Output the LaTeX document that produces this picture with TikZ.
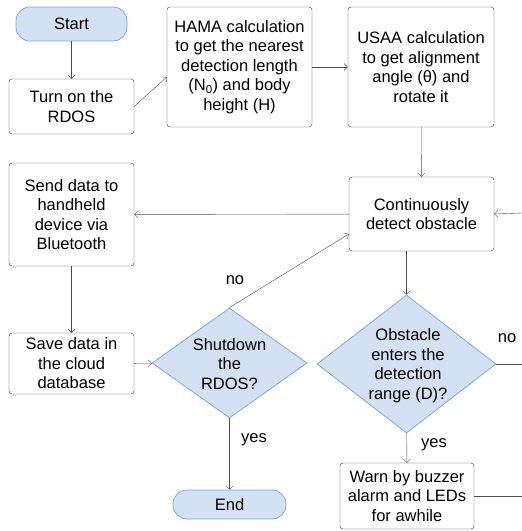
\documentclass[tikz,border=0pt]{standalone}
\usepackage{fontspec}
\setmainfont{Liberation Sans}
\usepackage{tikz}
\usetikzlibrary{arrows.meta}
\usetikzlibrary{shapes.geometric}
\definecolor{termfill}{HTML}{D4E1F5}
\definecolor{termdraw}{HTML}{7EA6E0}
\definecolor{linegray}{HTML}{4D4D4D}

\begin{document}
\begin{tikzpicture}%
	[x=1pt, y=-1pt,
	font=\fontsize{16.5}{19.5}\selectfont,
	process/.style={draw=black!80, rounded corners=3pt, inner sep=0pt, align=center},
	terminal/.style={draw=termdraw, fill=termfill, thick, rounded corners=14pt, inner sep=0pt},
	decision/.style={diamond, draw=termdraw, fill=termfill, thick, inner sep=0pt},
	flow/.style={draw=linegray, -{Straight Barb[length=3.5pt,width=7pt]}},
	plain/.style={draw=linegray},
	tag/.style={inner sep=0pt}]
%
\useasboundingbox (0,0) rectangle (522,531);
%%
%% Drawing the nodes
%%
\node[terminal, minimum width=111pt, minimum height=34pt] (start) at (71.5,24) {Start};
\node[process, minimum width=125pt, minimum height=55pt] (turn) at (71.5,106.5) {Turn on the\\RDOS};
\node[process, minimum width=145pt, minimum height=120pt] (hama) at (239.5,67) {HAMA calculation\\to get the nearest\\detection length\\(N\textsubscript{0}) and body\\height (H)};
\node[process, minimum width=146pt, minimum height=120pt] (usaa) at (421,67) {USAA calculation\\to get alignment\\angle (θ) and\\rotate it};
\node[process, minimum width=145pt, minimum height=74pt] (cont) at (421.5,214) {Continuously\\detect obstacle};
\node[process, minimum width=125pt, minimum height=103pt] (send) at (71.5,214.5) {Send data to\\handheld\\device via\\Bluetooth};
\node[process, minimum width=125pt, minimum height=61pt] (save) at (71.5,363.5) {Save data in\\the cloud\\database};
\node[decision, minimum width=155pt, minimum height=110pt] (shut) at (229.5,363) {};
\node[tag, align=center] (shuttext) at (229.5,364) {Shutdown\\the\\RDOS?};
\node[decision, minimum width=179pt, minimum height=138pt] (obst) at (406.5,364) {};
\node[tag, align=center] (obsttext) at (408,365.5) {Obstacle\\enters the\\detection\\range (D)?};
\node[process, minimum width=134pt, minimum height=66pt] (warn) at (407,496) {Warn by buzzer\\alarm and LEDs\\for awhile};
\node[terminal, minimum width=113pt, minimum height=29pt] (end) at (229.5,504.5) {End};
%%
%% Loose ends at the right border
%%
\coordinate (rin) at (522,213);
\coordinate (rno) at (522,364);
\coordinate (rwarn) at (522,496);
%%
%% Drawing edges
%%
\draw[flow] (start) -- (turn);
\draw[flow] (turn.east) -- ([yshift=-10pt]hama.west);
\draw[flow] (hama) -- (usaa);
\draw[flow] (usaa) -- (cont);
\draw[flow] (cont) -- (send);
\draw[flow] (send) -- (save);
\draw[flow] (save) -- (shut);
\draw[flow] (shut.north) -- ([yshift=-20pt]cont.west);
\draw[flow] (shut) -- (end);
\draw[flow] ([xshift=-15pt]cont.south) -- (obst.north);
\draw[flow] (obst) -- (warn);
\draw[plain] (obst.east) -- (rno);
\draw[plain] (warn.east) -- (rwarn);
\draw[flow] (rin) -- (cont.east);
%%
%% Drawing the labels
%%
\node[tag] (noshut) at (235,280) {no};
\node[tag] (yesshut) at (254,440) {yes};
\node[tag] (noobst) at (507,338) {no};
\node[tag] (yesobst) at (434,445) {yes};
%%
\end{tikzpicture}
\end{document}
